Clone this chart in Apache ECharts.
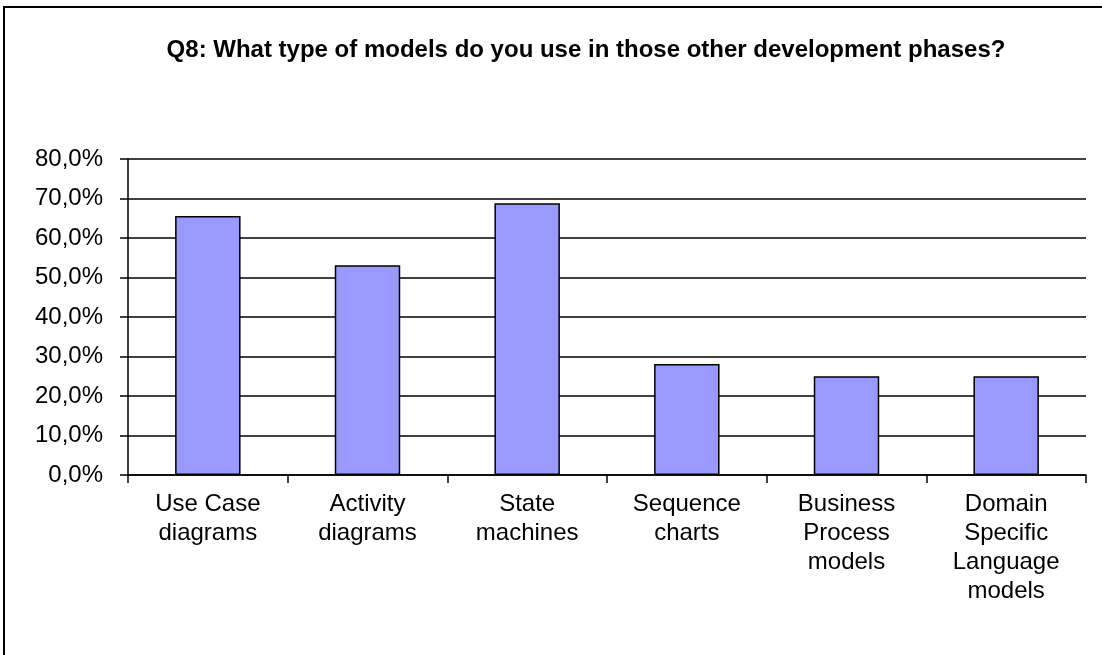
<!DOCTYPE html>
<html>
<head>
<meta charset="utf-8">
<script src="https://cdn.jsdelivr.net/npm/echarts@6/dist/echarts.min.js"></script>
<style>
  html, body { margin: 0; padding: 0; background: #fff; }
  #chart { width: 1102px; height: 655px; }
</style>
</head>
<body>
<div id="chart"></div>
<script>
// Survey question Q8: share of respondents using each model type
const titleText = 'Q8: What type of models do you use in those other development phases?';
const categories = [
  'Use Case\ndiagrams',
  'Activity\ndiagrams',
  'State\nmachines',
  'Sequence\ncharts',
  'Business\nProcess\nmodels',
  'Domain\nSpecific\nLanguage\nmodels'
];
const shares = [65.6, 53.1, 68.8, 28.1, 25.0, 25.0];
const yMin = 0;
const yMax = 80;
const yStep = 10;

const chart = echarts.init(document.getElementById('chart'), null, { renderer: 'canvas' });

chart.setOption({
  backgroundColor: '#ffffff',
  animation: false,
  title: {
    text: titleText,
    left: 581,
    top: 33,
    textAlign: 'center',
    textStyle: {
      fontFamily: '"Liberation Sans Narrow", "Liberation Sans", Arial, sans-serif',
      fontWeight: 'bold',
      fontSize: 24,
      color: '#000'
    }
  },
  graphic: [{
    type: 'rect',
    shape: { x: 4, y: 7, width: 1200, height: 700 },
    style: { fill: 'none', stroke: '#000', lineWidth: 2 },
    silent: true
  }],
  grid: { left: 128, right: 16, top: 159, bottom: 180, containLabel: false },
  xAxis: {
    type: 'category',
    data: categories,
    boundaryGap: true,
    axisLine: { show: true, lineStyle: { color: '#000', width: 1.5 } },
    axisTick: { show: true, length: 8, lineStyle: { color: '#000', width: 1.5 } },
    axisLabel: {
      interval: 0,
      margin: 15,
      fontFamily: '"Liberation Sans", Arial, sans-serif',
      fontSize: 24,
      lineHeight: 29,
      color: '#000',
      align: 'center'
    },
    splitLine: { show: false }
  },
  yAxis: {
    type: 'value',
    min: yMin,
    max: yMax,
    interval: yStep,
    axisLine: { show: true, lineStyle: { color: '#000', width: 1.5 } },
    axisTick: { show: true, length: 8, lineStyle: { color: '#000', width: 1.5 } },
    axisLabel: {
      margin: 25,
      fontFamily: '"Liberation Sans", Arial, sans-serif',
      fontSize: 24,
      color: '#000',
      formatter: function (v) { return v.toFixed(1).replace('.', ',') + '%'; }
    },
    splitLine: { show: true, lineStyle: { color: '#000', width: 1.5 } }
  },
  series: [{
    type: 'bar',
    data: shares,
    barWidth: '41%',
    itemStyle: { color: '#9999FF', borderColor: '#000', borderWidth: 1.5 }
  }]
});
</script>
</body>
</html>
